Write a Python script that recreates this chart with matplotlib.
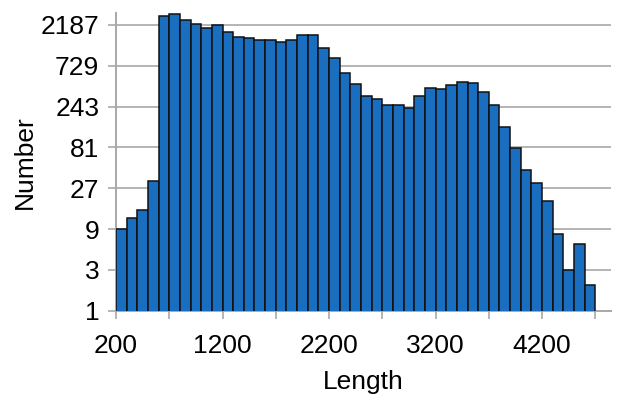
import matplotlib
matplotlib.use("Agg")
import matplotlib.pyplot as plt
import numpy as np

# Histogram of lengths, bins of 100 starting at 200
bin_start = 200
bin_width = 100
counts = [9, 12, 15, 33, 2738, 2941, 2482, 2248, 2018, 2170,
          1781, 1585, 1530, 1463, 1463, 1362, 1437, 1673, 1650, 1180,
          886, 592, 445, 325, 295, 255, 250, 231, 322, 403,
          392, 433, 473, 452, 359, 255, 140, 80, 44, 31,
          19, 8, 3, 6, 2]

y_ticks = [1, 3, 9, 27, 81, 243, 729, 2187]
x_ticks = [200, 1200, 2200, 3200, 4200]

plt.rcParams["font.family"] = ["Liberation Sans", "DejaVu Sans"]

fig = plt.figure(figsize=(6.27, 3.95), dpi=100)
ax = fig.add_axes([0.185, 0.213, 0.79, 0.754])

lefts = bin_start + bin_width * np.arange(len(counts))
ax.bar(lefts, counts, width=bin_width, align="edge", bottom=0,
       color="#1a6ec0", edgecolor="#111111", linewidth=1.1, zorder=3)

ax.set_yscale("log", base=3)
ax.set_ylim(1, 3000)
ax.set_xlim(200, 4850)

ax.set_yticks(y_ticks)
ax.set_yticklabels([str(v) for v in y_ticks])
ax.yaxis.set_minor_locator(matplotlib.ticker.NullLocator())
ax.set_xticks(x_ticks)
ax.set_xticklabels([str(v) for v in x_ticks])
ax.set_xticks(np.arange(200, 4701, 500), minor=True)

ax.grid(axis="y", color="#b4b4b4", linewidth=1.4, zorder=0)
for side in ["top", "right"]:
    ax.spines[side].set_visible(False)
for side in ["left", "bottom"]:
    ax.spines[side].set_color("#a8a8a8")
    ax.spines[side].set_linewidth(1.4)

ax.tick_params(axis="y", which="major", length=6, width=1.2, color="#a8a8a8",
               labelsize=19, pad=6)
ax.tick_params(axis="x", which="both", length=6, width=1.2, color="#a8a8a8",
               labelsize=19, pad=11)

ax.set_xlabel("Length", fontsize=19, labelpad=8)
ax.set_ylabel("Number", fontsize=19, labelpad=3)

fig.savefig("out.png", dpi=100)
